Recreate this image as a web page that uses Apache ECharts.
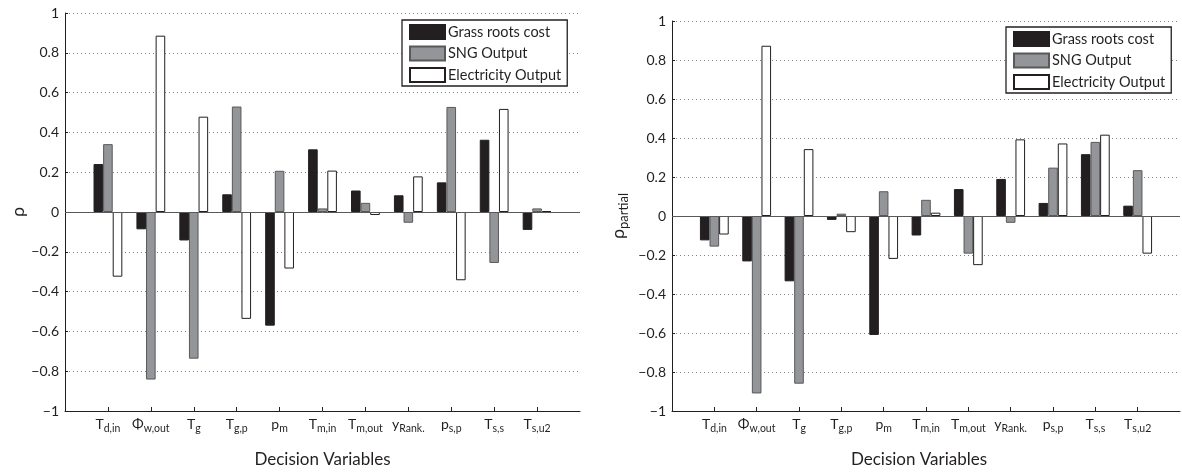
<!DOCTYPE html>
<html>
<head>
<meta charset="utf-8">
<script src="https://cdn.jsdelivr.net/npm/echarts@6/dist/echarts.min.js"></script>
<style>
  html, body { margin: 0; padding: 0; background: #fff; }
  #chart { width: 1182px; height: 473px; }
</style>
</head>
<body>
<div id="chart"></div>
<script>
// decision variables: base symbol + subscript
const catBase = ["T", "Φ", "T", "T", "p", "T", "T", "y", "p", "T", "T"];
const catSub = ["d,in", "w,out", "g", "g,p", "m", "m,in", "m,out", "Rank.", "s,p", "s,s", "s,u2"];

// left: rho
const rhoCost = [0.241, -0.087, -0.143, 0.089, -0.571, 0.315, 0.108, 0.084, 0.149, 0.363, -0.090];
const rhoSNG = [0.341, -0.842, -0.737, 0.530, 0.207, 0.018, 0.046, -0.054, 0.528, -0.256, 0.018];
const rhoElec = [-0.325, 0.886, 0.479, -0.537, -0.284, 0.208, -0.015, 0.179, -0.343, 0.518, 0.005];

// right: rho partial
const pCost = [-0.125, -0.233, -0.335, -0.020, -0.610, -0.100, 0.138, 0.190, 0.067, 0.317, 0.053];
const pSNG = [-0.157, -0.910, -0.860, 0.012, 0.127, 0.083, -0.193, -0.035, 0.248, 0.380, 0.235];
const pElec = [-0.095, 0.873, 0.343, -0.083, -0.220, 0.017, -0.252, 0.393, 0.372, 0.417, -0.193];

const names = ["Grass roots cost", "SNG Output", "Electricity Output"];

const FONT = "Lato";
const INK = "#231f20";
const COLOR_COST = "#231f20";
const COLOR_SNG = "#939598";
const COLOR_ELEC = "#ffffff";

const tickPos = catBase.map((_, i) => i + 1);

function toPairs(arr) {
    return arr.map((v, i) => [i + 1, v]);
}

function yFmt(v) {
    const a = Math.round(Math.abs(v) * 10) / 10;
    return (v < -1e-9 ? "\u2212" : "") + a;
}

function xFmt(v) {
    const i = Math.round(v) - 1;
    if (i < 0 || i >= catBase.length) return "";
    return "{b|" + catBase[i] + "}{s|" + catSub[i] + "}";
}

function makeXAxis(gridIndex, namePad) {
    return {
        type: "value",
        gridIndex,
        min: 0,
        max: 12,
        interval: 1,
        name: "Decision Variables",
        nameLocation: "middle",
        nameGap: 40,
        nameTextStyle: { fontFamily: FONT, fontSize: 17, color: INK, padding: namePad },
        axisLine: { onZero: false, lineStyle: { color: INK, width: 1 } },
        axisTick: { inside: true, length: 4, customValues: tickPos, lineStyle: { color: INK } },
        splitLine: { show: false },
        axisLabel: {
            customValues: tickPos,
            margin: 4,
            formatter: xFmt,
            color: INK,
            rich: {
                b: { fontFamily: FONT, fontSize: 14, color: INK },
                s: { fontFamily: FONT, fontSize: 10.5, color: INK, padding: [8, 0, 0, 0] },
            },
        },
    };
}

function makeYAxis(gridIndex, name, gap) {
    return {
        type: "value",
        gridIndex,
        min: -1,
        max: 1,
        interval: 0.2,
        name,
        nameLocation: "middle",
        nameGap: gap,
        nameRotate: 90,
        nameTextStyle: {
            fontFamily: FONT,
            fontSize: 18,
            color: INK,
            rich: {
                r: { fontFamily: FONT, fontSize: 18, color: INK },
                s: { fontFamily: FONT, fontSize: 13, color: INK, padding: [10, 0, 0, 0] },
            },
        },
        axisLine: { show: true, lineStyle: { color: INK, width: 1 } },
        axisTick: { show: true, inside: true, length: 3, lineStyle: { color: INK } },
        axisLabel: { margin: 6, formatter: yFmt, fontFamily: FONT, fontSize: 14, color: INK },
        splitLine: { show: true, lineStyle: { color: "#808285", type: [1, 3], width: 1 } },
    };
}

function barSeries(name, data, idx, color, border) {
    return {
        name,
        type: "bar",
        xAxisIndex: idx,
        yAxisIndex: idx,
        data: toPairs(data),
        barWidth: 9.6,
        barGap: "0%",
        itemStyle: { color, borderColor: border, borderWidth: 1 },
        emphasis: { disabled: true },
    };
}

function baseLine(idx) {
    return {
        type: "line",
        xAxisIndex: idx,
        yAxisIndex: idx,
        data: [],
        silent: true,
        markLine: {
            silent: true,
            symbol: ["none", "none"],
            label: { show: false },
            lineStyle: { color: "#58595b", type: "solid", width: 1 },
            data: [{ yAxis: 0 }],
        },
    };
}

function makeLegend(left, top) {
    return {
        left,
        top,
        orient: "vertical",
        data: names,
        icon: "rect",
        itemWidth: 35,
        itemHeight: 14,
        itemGap: 5.5,
        padding: [4, 6, 3, 7],
        borderColor: INK,
        borderWidth: 1.3,
        backgroundColor: "#fff",
        selectedMode: false,
        textStyle: { fontFamily: FONT, fontSize: 14.5, color: INK, padding: [0, 0, 0, -2] },
    };
}

const chart = echarts.init(document.getElementById("chart"), null, { renderer: "canvas" });

chart.setOption({
    animation: false,
    backgroundColor: "#fff",
    textStyle: { fontFamily: FONT },
    grid: [
        { left: 65, top: 13, width: 515, height: 406 },
        { left: 672, top: 21, width: 508, height: 400 },
    ],
    legend: [makeLegend(402, 20), makeLegend(1006, 27)],
    xAxis: [makeXAxis(0, [0, 0, 0, 0]), makeXAxis(1, [0, 14, 0, 0])],
    yAxis: [makeYAxis(0, "ρ", 28), makeYAxis(1, "{r|ρ}{s|partial}", 42)],
    series: [
        baseLine(0),
        baseLine(1),
        barSeries(names[0], rhoCost, 0, COLOR_COST, INK),
        barSeries(names[1], rhoSNG, 0, COLOR_SNG, "#58595b"),
        barSeries(names[2], rhoElec, 0, COLOR_ELEC, INK),
        barSeries(names[0], pCost, 1, COLOR_COST, INK),
        barSeries(names[1], pSNG, 1, COLOR_SNG, "#58595b"),
        barSeries(names[2], pElec, 1, COLOR_ELEC, INK),
    ],
});
</script>
</body>
</html>
